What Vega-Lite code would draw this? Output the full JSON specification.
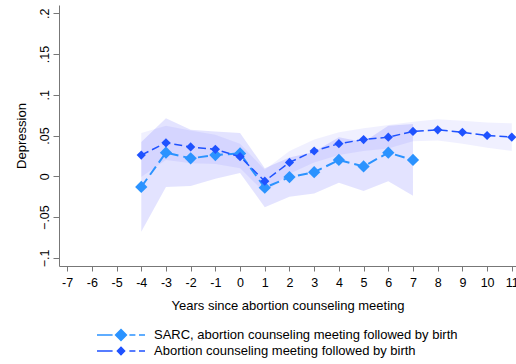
{
  "$schema": "https://vega.github.io/schema/vega-lite/v6.json",
  "autosize": "none",
  "width": 457,
  "height": 261,
  "padding": {"left": 59, "top": 5, "right": 0, "bottom": 98},
  "config": {"view": {"stroke": null}, "font": "Liberation Sans", "background": "white"},
  "datasets": {
    "sarc": [
      {"x": -4, "y": -0.013, "lo": -0.068, "hi": 0.042},
      {"x": -3, "y": 0.029, "lo": -0.013, "hi": 0.071},
      {"x": -2, "y": 0.022, "lo": -0.012, "hi": 0.057},
      {"x": -1, "y": 0.026, "lo": -0.003, "hi": 0.055},
      {"x": 0, "y": 0.028, "lo": 0.004, "hi": 0.053},
      {"x": 1, "y": -0.014, "lo": -0.038, "hi": 0.010},
      {"x": 2, "y": -0.001, "lo": -0.025, "hi": 0.023},
      {"x": 3, "y": 0.005, "lo": -0.021, "hi": 0.030},
      {"x": 4, "y": 0.020, "lo": -0.008, "hi": 0.048},
      {"x": 5, "y": 0.012, "lo": -0.018, "hi": 0.042},
      {"x": 6, "y": 0.029, "lo": -0.006, "hi": 0.062},
      {"x": 7, "y": 0.020, "lo": -0.024, "hi": 0.064}
    ],
    "acm": [
      {"x": -4, "y": 0.026, "lo": -0.001, "hi": 0.053},
      {"x": -3, "y": 0.041, "lo": 0.020, "hi": 0.062},
      {"x": -2, "y": 0.036, "lo": 0.016, "hi": 0.056},
      {"x": -1, "y": 0.033, "lo": 0.015, "hi": 0.051},
      {"x": 0, "y": 0.024, "lo": 0.010, "hi": 0.040},
      {"x": 1, "y": -0.006, "lo": -0.020, "hi": 0.008},
      {"x": 2, "y": 0.017, "lo": 0.003, "hi": 0.031},
      {"x": 3, "y": 0.031, "lo": 0.017, "hi": 0.045},
      {"x": 4, "y": 0.040, "lo": 0.026, "hi": 0.054},
      {"x": 5, "y": 0.045, "lo": 0.031, "hi": 0.059},
      {"x": 6, "y": 0.048, "lo": 0.034, "hi": 0.063},
      {"x": 7, "y": 0.055, "lo": 0.043, "hi": 0.067},
      {"x": 8, "y": 0.057, "lo": 0.044, "hi": 0.070},
      {"x": 9, "y": 0.054, "lo": 0.040, "hi": 0.068},
      {"x": 10, "y": 0.050, "lo": 0.035, "hi": 0.066},
      {"x": 11, "y": 0.048, "lo": 0.031, "hi": 0.065}
    ],
    "legend": [
      {"series": "SARC, abortion counseling meeting followed by birth", "x": 0, "y": 0},
      {"series": "Abortion counseling meeting followed by birth", "x": 0, "y": 0}
    ]
  },
  "encoding": {
    "x": {
      "type": "quantitative",
      "scale": {"domain": [-7.33, 11.17], "nice": false, "zero": false},
      "axis": {
        "title": "Years since abortion counseling meeting",
        "values": [-7,-6,-5,-4,-3,-2,-1,0,1,2,3,4,5,6,7,8,9,10,11],
        "labelExpr": "'' + datum.value",
        "grid": false,
        "domainColor": "#777777",
        "tickColor": "#777777",
        "tickSize": 5,
        "labelFontSize": 12.5,
        "labelColor": "#000000",
        "labelPadding": 5,
        "titleFontSize": 13,
        "titleFontWeight": "normal",
        "titleColor": "#000000",
        "titlePadding": 11,
        "labelFlush": false,
        "labelOverlap": false
      }
    },
    "y": {
      "type": "quantitative",
      "scale": {"domain": [-0.11, 0.21], "nice": false, "zero": false},
      "axis": {
        "title": "Depression",
        "values": [-0.1, -0.05, 0, 0.05, 0.1, 0.15, 0.2],
        "labelExpr": "replace(format(datum.value, '.2~f'), '0.', '.')",
        "grid": false,
        "labelAngle": 270,
        "domainColor": "#777777",
        "tickColor": "#777777",
        "tickSize": 6,
        "labelFontSize": 12.5,
        "labelColor": "#000000",
        "labelPadding": 2,
        "titleFontSize": 13,
        "titleFontWeight": "normal",
        "titleColor": "#000000",
        "titlePadding": 10,
        "labelFlush": false,
        "labelOverlap": false
      }
    }
  },
  "layer": [
    {
      "data": {"name": "acm"},
      "mark": {"type": "area", "color": "#0000ff", "opacity": 0.06},
      "encoding": {"x": {"field": "x"}, "y": {"field": "lo"}, "y2": {"field": "hi"}}
    },
    {
      "data": {"name": "sarc"},
      "mark": {"type": "area", "color": "#0000ff", "opacity": 0.11},
      "encoding": {"x": {"field": "x"}, "y": {"field": "lo"}, "y2": {"field": "hi"}}
    },
    {
      "mark": {"type": "rule", "color": "#999999", "strokeWidth": 1.5},
      "encoding": {"y": {"datum": 0}}
    },
    {
      "mark": {"type": "rule", "color": "#808080", "strokeWidth": 1.2, "strokeDash": [6, 4]},
      "encoding": {"x": {"datum": 0}}
    },
    {
      "data": {"name": "sarc"},
      "mark": {"type": "line", "color": "#2b93ff", "strokeWidth": 2, "strokeDash": [10, 5]},
      "encoding": {"x": {"field": "x"}, "y": {"field": "y"}}
    },
    {
      "data": {"name": "sarc"},
      "mark": {"type": "point", "shape": "diamond", "filled": true, "opacity": 1, "color": "#2b93ff", "size": 150},
      "encoding": {"x": {"field": "x"}, "y": {"field": "y"}}
    },
    {
      "data": {"name": "acm"},
      "mark": {"type": "line", "color": "#1f52ff", "strokeWidth": 1.5, "strokeDash": [8, 4]},
      "encoding": {"x": {"field": "x"}, "y": {"field": "y"}}
    },
    {
      "data": {"name": "acm"},
      "mark": {"type": "point", "shape": "diamond", "filled": true, "opacity": 1, "color": "#1f52ff", "size": 85},
      "encoding": {"x": {"field": "x"}, "y": {"field": "y"}}
    },
    {
      "data": {"name": "legend"},
      "mark": {"type": "point", "filled": true, "opacity": 0, "size": 144},
      "encoding": {
        "x": {"field": "x"},
        "y": {"field": "y"},
        "color": {
          "field": "series", "type": "nominal",
          "scale": {
            "domain": ["SARC, abortion counseling meeting followed by birth", "Abortion counseling meeting followed by birth"],
            "range": ["#2b93ff", "#1f52ff"]
          },
          "legend": {
            "orient": "none",
            "legendX": 55,
            "legendY": 323,
            "title": null,
            "direction": "vertical",
            "columns": 1,
            "padding": 0,
            "rowPadding": 0,
            "symbolSize": 144,
            "symbolOpacity": 1,
            "symbolStrokeWidth": 1.5,
            "labelFontSize": 13,
            "labelColor": "#000000",
            "labelOffset": 26,
            "labelLimit": 400,
            "encode": {
              "symbols": {"update": {"stroke": {"scale": "color", "field": "value"}, "opacity": {"value": 1}, "strokeWidth": {"value": 1.5}}}
            }
          }
        },
        "shape": {
          "field": "series", "type": "nominal",
          "scale": {
            "domain": ["SARC, abortion counseling meeting followed by birth", "Abortion counseling meeting followed by birth"],
            "range": [
              "M-4,0H-1.4M0,-0.9L0.9,0L0,0.9L-0.9,0ZM1.4,0H2.4M3,0H4",
              "M-4,0H-1.4M0,-0.6L0.6,0L0,0.6L-0.6,0ZM1.4,0H2.4M3,0H4"
            ]
          }
        }
      }
    }
  ]
}
